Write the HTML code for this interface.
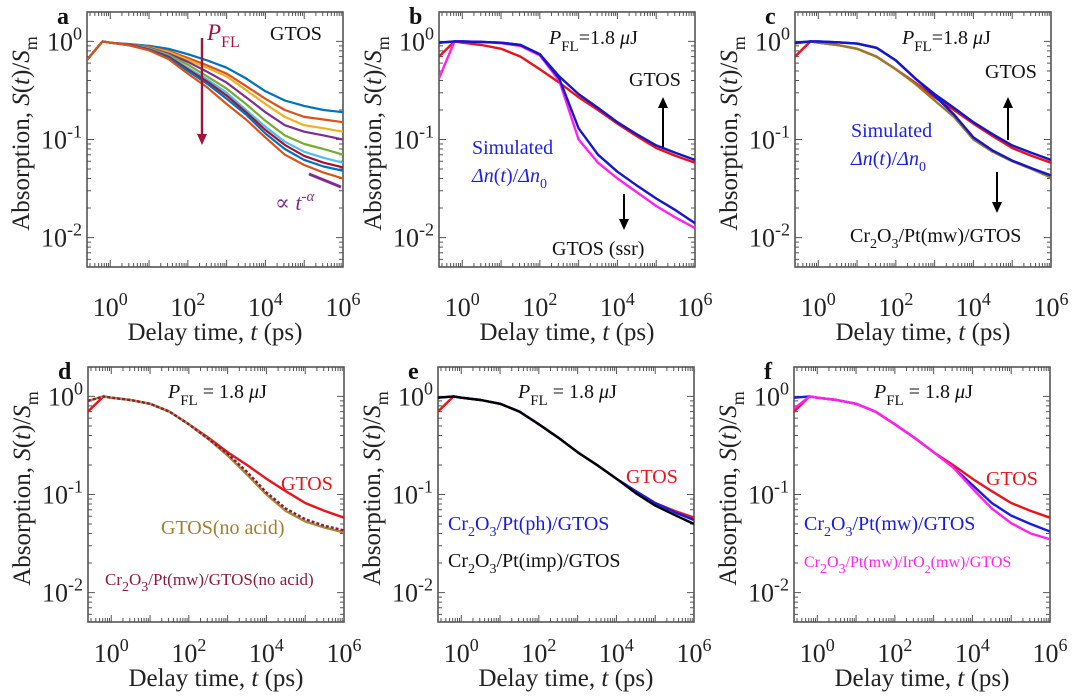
<!DOCTYPE html>
<html><head><meta charset="utf-8"><style>
html,body{margin:0;padding:0;background:#fff;}
svg{display:block;}
svg text{font-family:"Liberation Serif","DejaVu Serif",serif;}
</style></head><body>
<svg id="fig" width="1080" height="699" viewBox="0 0 1080 699" font-family="Liberation Serif, serif"></svg>
<script>
// shared log10 time grid (ps)
const logT = [-0.6,-0.2,0,0.5,1,1.5,2,2.5,3,3.5,4,4.5,5,5.5,6];
// panel a: power series
const aS1 = [.65,1,.97,.94,.9,.84,.74,.64,.54,.42,.31,.25,.22,.2,.19];
const aS2 = [.65,1,.97,.93,.88,.8,.68,.57,.47,.35,.26,.2,.17,.16,.15];
const aS3 = [.65,1,.97,.93,.87,.78,.65,.54,.44,.32,.23,.17,.14,.13,.12];
const aS4 = [.65,1,.97,.93,.86,.75,.62,.49,.38,.27,.19,.14,.12,.11,.1];
const aS5 = [.65,1,.97,.92,.85,.73,.58,.44,.33,.23,.155,.11,.09,.08,.07];
const aS6 = [.65,1,.97,.92,.84,.71,.54,.41,.3,.2,.135,.095,.075,.065,.058];
const aS7 = [.65,1,.97,.92,.83,.7,.52,.39,.28,.19,.125,.088,.068,.058,.052];
const aS8 = [.65,1,.97,.91,.82,.68,.5,.37,.26,.18,.115,.08,.062,.053,.048];
const aS9 = [.65,1,.97,.91,.81,.66,.47,.34,.23,.16,.105,.07,.055,.046,.04];
// GTOS reference
const gtos = [.7,1,.97,.92,.84,.7,.52,.38,.27,.2,.145,.108,.082,.068,.058];
// panel b
const bSimUp = [.97,1,1,.99,.97,.92,.74,.44,.29,.21,.15,.113,.087,.073,.062];
const bSimLow = [.97,1,1,.99,.97,.92,.74,.42,.13,.07,.047,.034,.025,.019,.014];
const bSsr = [.42,1,1,.99,.96,.9,.72,.4,.1,.058,.04,.029,.021,.016,.0125];
// panel c
const cCr = [.95,1,.97,.92,.84,.7,.52,.37,.25,.17,.1,.075,.06,.05,.041];
const cSimUp = [.97,1,1,.98,.95,.86,.64,.42,.29,.21,.15,.113,.087,.073,.062];
const cSimLow = [.97,1,1,.98,.95,.86,.64,.42,.28,.18,.105,.077,.061,.051,.043];
// panel d
const dNoAcid = [.9,1,.97,.92,.84,.7,.52,.37,.25,.16,.1,.068,.053,.046,.041];
const dCrNoAcid = [.9,1,.97,.92,.84,.7,.52,.37,.26,.17,.105,.072,.056,.048,.043];
// panel e
const ePh = [.97,1,.97,.92,.84,.7,.52,.38,.27,.2,.145,.108,.082,.066,.055];
const eImp = [.97,1,.97,.92,.84,.7,.52,.38,.27,.2,.145,.103,.077,.062,.05];
// panel f
const fMw = [.97,1,.97,.92,.84,.7,.52,.38,.27,.19,.125,.082,.061,.05,.042];
const fIr = [.75,1,.97,.92,.84,.7,.52,.38,.27,.19,.115,.072,.051,.04,.035];
const xTickExp = [0,2,4,6];
const yTickExp = [0,-1,-2];

const NS="http://www.w3.org/2000/svg";
const svg=document.getElementById('fig');
const FF='Liberation Serif, serif';
function el(tag,attrs,parent){const e=document.createElementNS(NS,tag);for(const k in attrs)e.setAttribute(k,attrs[k]);if(tag==='text')e.setAttribute('font-family',FF);(parent||svg).appendChild(e);return e;}

const W=256,H=255,XMIN=-0.6,XMAX=6,YMIN=-2.3,YMAX=0.3;
function mkPanel(x0,y0,name,row){
  const g=el('g',{});
  
  
  const sx=v=>x0+(v-XMIN)/(XMAX-XMIN)*W;
  const sy=v=>y0+(YMAX-Math.log10(v))/(YMAX-YMIN)*H;
  const syl=e=>y0+(YMAX-e)/(YMAX-YMIN)*H;
  let d='';
  for(let e=-1;e<=6;e++){for(let m=1;m<10;m++){const lv=e+Math.log10(m);if(lv<XMIN||lv>XMAX)continue;const px=sx(lv);const L=m===1?7:4;d+=`M${px},${y0+H}v${-L}M${px},${y0}v${L}`;}}
  for(let e=-3;e<=0;e++){for(let m=1;m<10;m++){const lv=e+Math.log10(m);if(lv<YMIN||lv>YMAX)continue;const py=syl(lv);const L=m===1?7:4;d+=`M${x0},${py}h${L}M${x0+W},${py}h${-L}`;}}
  const tk=el('path',{d:d,stroke:'#555','stroke-width':1,fill:'none'},g);
  
  
  const fr=el('rect',{x:x0,y:y0,width:W,height:H,fill:'none',stroke:'#555','stroke-width':1.6},g);
  
  
  const tb=row===0?316:662, tt=row===0?340:686;
  xTickExp.forEach(e=>{
    const t=el('text',{x:sx(e),y:tb,'text-anchor':'middle','font-size':26,fill:'#222'},g);
    
    
    t.innerHTML=`10<tspan dy="-11" font-size="18">${e}</tspan>`;
  });
  yTickExp.forEach(e=>{
    const t=el('text',{x:x0-5,y:syl(e)+9,'text-anchor':'end','font-size':26,fill:'#222'},g);
    
    
    t.innerHTML=`10<tspan dy="-11" font-size="18">${e}</tspan>`;
  });
  const xt=el('text',{x:x0+W/2,y:tt,'text-anchor':'middle','font-size':25,fill:'#222'},g);
  
  
  xt.innerHTML='Delay time, <tspan font-style="italic">t</tspan> (ps)';
  const yt=el('text',{x:0,y:0,'text-anchor':'middle','font-size':25,fill:'#222',transform:`translate(${x0-58},${y0+H/2-6}) rotate(-90)`},g);
  
  
  yt.innerHTML='Absorption, <tspan font-style="italic">S</tspan>(<tspan font-style="italic">t</tspan>)/<tspan font-style="italic">S</tspan><tspan dy="8" font-size="18">m</tspan>';
  const lt=el('text',{x:x0-30,y:y0+12,'font-size':24,'font-weight':'bold',fill:'#111'},g);
  
  
  lt.textContent=name;
  const cp=el('clipPath',{id:'clip'+name},g);
  el('rect',{x:x0,y:y0,width:W,height:H},cp);
  const lines=el('g',{'clip-path':`url(#clip${name})`},g);
  function line(vals,color,nm,w,dash){
    const pts=vals.map((v,i)=>`${sx(logT[i]).toFixed(1)},${sy(v).toFixed(1)}`).join(' ');
    const p=el('polyline',{points:pts,fill:'none',stroke:color,'stroke-width':w||2.4,'stroke-linejoin':'round'},lines);
    if(dash)p.setAttribute('stroke-dasharray',dash);
    
    
  }
  function text(x,y,html,opts,nm){
    const t=el('text',Object.assign({x:x0+x,y:y0+y,'font-size':20,fill:'#111'},opts||{}),g);
    
    
    t.innerHTML=html;return t;
  }
  function arrow(x,y1,y2,color,nm,w){
    const a=el('g',{},g);
    
    
    const dir=y2>y1?1:-1;
    el('line',{x1:x0+x,y1:y0+y1,x2:x0+x,y2:y0+y2-dir*8,stroke:color,'stroke-width':w||2},a);
    el('path',{d:`M${x0+x-5},${y0+y2-dir*11}L${x0+x},${y0+y2}L${x0+x+5},${y0+y2-dir*11}Z`,fill:color},a);
  }
  return {line,text,arrow,sx,sy};
}
const pfl='<tspan font-style="italic">P</tspan><tspan dy="7" font-size="15">FL</tspan><tspan dy="-7">';
const cr2o3='Cr<tspan dy="6" font-size="14">2</tspan><tspan dy="-6">O</tspan><tspan dy="6" font-size="14">3</tspan><tspan dy="-6">';

// Panel a
const A=mkPanel(87,12,'a',0);
const aCols=['#0072BD','#D95319','#EDB120','#7E2F8E','#77AC30','#4DBEEE','#A2142F','#0072BD','#D95319'];
[aS1,aS2,aS3,aS4,aS5,aS6,aS7,aS8,aS9].forEach((s,i)=>A.line(s,aCols[i],'series-power-'+(i+1),2.2));
A.arrow(115,26,133,'#a0153e','power-arrow',2.4);
A.text(120,28,'<tspan font-style="italic" font-size="23">P</tspan><tspan dy="7" font-size="16">FL</tspan>',{fill:'#a0153e','font-size':22},'pfl-label');
A.text(183,28,'GTOS',{'font-size':20},'gtos-label');
const pl=el('line',{x1:87+222,y1:12+162,x2:87+254,y2:12+175,stroke:'#7E2F8E','stroke-width':3});


A.text(188,198,'∝ <tspan font-style="italic">t</tspan><tspan dy="-9" font-size="15" font-style="italic">-α</tspan>',{fill:'#7E2F8E','font-size':22},'power-law-label');

// Panel b
const B=mkPanel(439,12,'b',0);
B.line(gtos,'#e8141c','series-gtos');
B.line(bSsr,'#ff22ee','series-gtos-ssr');
B.line(bSimUp,'#1515cc','series-sim-upper');
B.line(bSimLow,'#1515cc','series-sim-lower');
B.text(110,32,pfl+'=1.8 <tspan font-style="italic">μ</tspan>J</tspan>',{'font-size':20},'pfl-label');
B.text(190,74,'GTOS',{'font-size':20},'gtos-label');
B.arrow(224,135,85,'#000','up-arrow');
B.text(33,142,'Simulated',{fill:'#1f1fe0','font-size':20},'sim-label');
B.text(33,170,'<tspan font-style="italic">Δn</tspan>(<tspan font-style="italic">t</tspan>)/<tspan font-style="italic">Δn</tspan><tspan dy="6" font-size="14">0</tspan>',{fill:'#1f1fe0','font-size':20},'sim-formula');
B.arrow(185,182,218,'#000','down-arrow');
B.text(113,243,'GTOS (ssr)',{'font-size':20},'ssr-label');

// Panel c
const C=mkPanel(795,12,'c',0);
C.line(gtos,'#e8141c','series-gtos');
C.line(cCr,'#9a7a2a','series-cr2o3-pt-mw');
C.line(cSimUp,'#1515cc','series-sim-upper');
C.line(cSimLow,'#1515cc','series-sim-lower');
C.text(107,32,pfl+'=1.8 <tspan font-style="italic">μ</tspan>J</tspan>',{'font-size':20},'pfl-label');
C.text(190,66,'GTOS',{'font-size':20},'gtos-label');
C.arrow(213,128,85,'#000','up-arrow');
C.text(56,125,'Simulated',{fill:'#1f1fe0','font-size':20},'sim-label');
C.text(56,153,'<tspan font-style="italic">Δn</tspan>(<tspan font-style="italic">t</tspan>)/<tspan font-style="italic">Δn</tspan><tspan dy="6" font-size="14">0</tspan>',{fill:'#1f1fe0','font-size':20},'sim-formula');
C.arrow(202,160,201,'#000','down-arrow');
C.text(55,230,cr2o3+'/Pt(mw)/GTOS</tspan>',{'font-size':20},'cr2o3-label');

// Panel d
const D=mkPanel(88,367,'d',1);
D.line(gtos,'#e8141c','series-gtos');
D.line(dNoAcid,'#a88a3a','series-gtos-no-acid');
D.line(dCrNoAcid,'#8a1d3a','series-cr2o3-no-acid',2.4,'3,2');
D.text(80,31,pfl+' = 1.8 <tspan font-style="italic">μ</tspan>J</tspan>',{'font-size':20},'pfl-label');
D.text(193,123,'GTOS',{fill:'#e8141c','font-size':20},'gtos-label');
D.text(73,167,'GTOS(no acid)',{fill:'#a08030','font-size':20},'no-acid-label');
D.text(17,218,cr2o3+'/Pt(mw)/GTOS(no acid)</tspan>',{fill:'#8a1d3a','font-size':17},'cr2o3-no-acid-label');

// Panel e
const E=mkPanel(438,367,'e',1);
E.line(gtos,'#e8141c','series-gtos');
E.line(ePh,'#1a1ae6','series-cr2o3-pt-ph');
E.line(eImp,'#000','series-cr2o3-pt-imp');
E.text(80,31,pfl+' = 1.8 <tspan font-style="italic">μ</tspan>J</tspan>',{'font-size':20},'pfl-label');
E.text(188,116,'GTOS',{fill:'#e8141c','font-size':20},'gtos-label');
E.text(10,163,cr2o3+'/Pt(ph)/GTOS</tspan>',{fill:'#1a1ae6','font-size':20},'ph-label');
E.text(10,200,cr2o3+'/Pt(imp)/GTOS</tspan>',{fill:'#111','font-size':20},'imp-label');

// Panel f
const F=mkPanel(794,367,'f',1);
F.line(gtos,'#e8141c','series-gtos');
F.line(fMw,'#1a1ae6','series-cr2o3-pt-mw');
F.line(fIr,'#ff22ee','series-cr2o3-pt-iro2');
F.text(80,31,pfl+' = 1.8 <tspan font-style="italic">μ</tspan>J</tspan>',{'font-size':20},'pfl-label');
F.text(192,118,'GTOS',{fill:'#e8141c','font-size':20},'gtos-label');
F.text(10,163,cr2o3+'/Pt(mw)/GTOS</tspan>',{fill:'#1a1ae6','font-size':20},'mw-label');
F.text(10,200,cr2o3+'/Pt(mw)/IrO<tspan dy="6" font-size="12">2</tspan><tspan dy="-6">(mw)/GTOS</tspan></tspan>',{fill:'#ff22ee','font-size':16},'iro2-label');
</script>
</body></html>
